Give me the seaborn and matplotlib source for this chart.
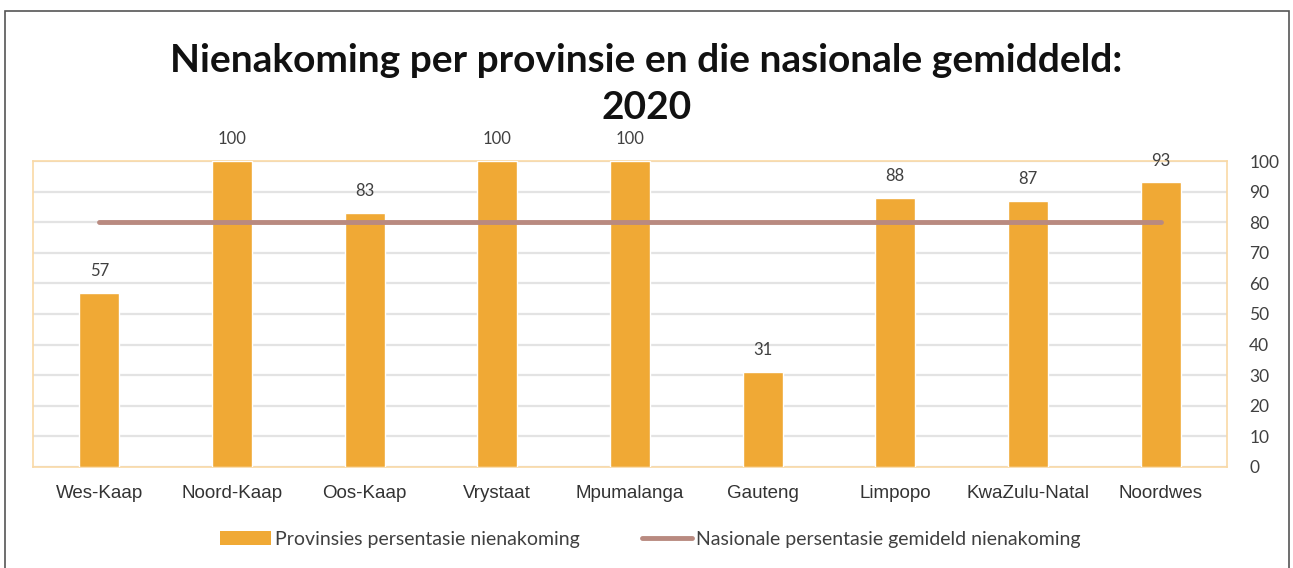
import matplotlib
matplotlib.use("Agg")
import matplotlib.pyplot as plt
import seaborn as sns
import pandas as pd
from matplotlib.patches import Rectangle, Patch
from matplotlib.lines import Line2D

provinces = ['Wes-Kaap', 'Noord-Kaap', 'Oos-Kaap', 'Vrystaat', 'Mpumalanga',
             'Gauteng', 'Limpopo', 'KwaZulu-Natal', 'Noordwes']
province_pct = [57, 100, 83, 100, 100, 31, 88, 87, 93]
national_avg = [80, 80, 80, 80, 80, 80, 80, 80, 80]
y_ticks = [0, 10, 20, 30, 40, 50, 60, 70, 80, 90, 100]
bar_name = 'Provinsies persentasie nienakoming'
line_name = 'Nasionale persentasie gemideld nienakoming'

df = pd.DataFrame({'Provinsie': provinces, 'Pct': province_pct, 'Nasionaal': national_avg})

sns.set_theme(style="white")
plt.rcParams['font.family'] = ['Lato', 'DejaVu Sans']

bar_color = '#F0A935'
line_color = '#B98A80'

fig = plt.figure(figsize=(12.93, 5.68), dpi=100)
ax = fig.add_axes([0.0255, 0.178, 0.9235, 0.5385])

sns.barplot(data=df, x='Provinsie', y='Pct', color=bar_color, width=0.3,
            saturation=1, ax=ax, zorder=3)
ax.plot(range(len(provinces)), df['Nasionaal'], color=line_color, lw=3.5,
        solid_capstyle='round', zorder=4)

ax.bar_label(ax.containers[0], padding=10, fontsize=12, color='#404040', clip_on=False)

ax.set_ylim(0, 100)
ax.set_xlim(-0.5, len(provinces) - 0.5)
ax.set_yticks(y_ticks)
ax.yaxis.tick_right()
ax.tick_params(axis='y', length=0, labelsize=12.5, labelcolor='#404040', pad=16)
ax.set_xticks(range(len(provinces)), provinces, fontfamily='Liberation Sans',
              fontsize=13.5, color='#333333')
ax.tick_params(axis='x', length=0, pad=13)
ax.set_xlabel('')
ax.set_ylabel('')
ax.grid(axis='y', color='#E3E3E3', lw=1.6, zorder=0)
for s in ax.spines.values():
    s.set_color('#F9D9A6')
    s.set_linewidth(1.2)

fig.suptitle('Nienakoming per provinsie en die nasionale gemiddeld:\n2020',
             fontsize=28, fontweight='bold', y=0.925, x=0.5, color='#111111',
             linespacing=1.42)

handles = [Patch(facecolor=bar_color, edgecolor='none'),
           Line2D([0], [0], color=line_color, lw=3.5)]
leg = fig.legend(handles, [bar_name, line_name], loc='center',
                 bbox_to_anchor=(0.503, 0.05), ncol=2, frameon=False,
                 fontsize=14, handlelength=2.6, handletextpad=0.2, columnspacing=3.2)
for t in leg.get_texts():
    t.set_color('#404040')

fig.patches.append(Rectangle((0.004, -0.05), 0.993, 1.03, transform=fig.transFigure,
                             fill=False, edgecolor='#555555', lw=1.2))

fig.savefig('out.png', dpi=100)
